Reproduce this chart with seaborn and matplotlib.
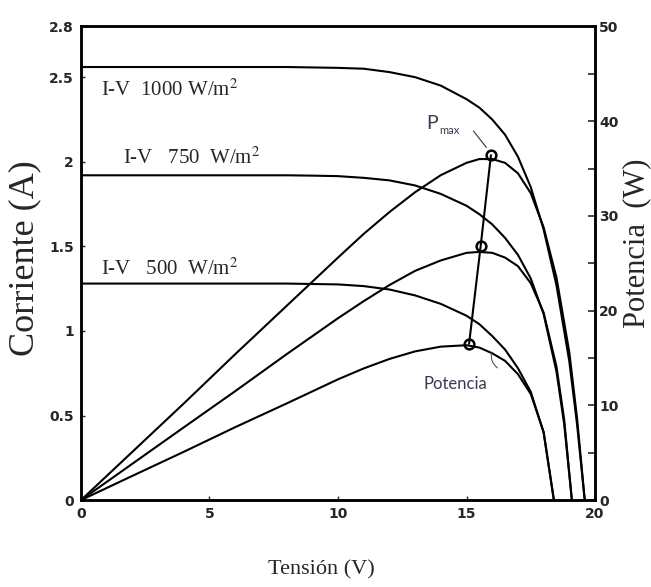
import matplotlib
matplotlib.use("Agg")
import matplotlib.pyplot as plt
import seaborn as sns
import pandas as pd

# curva I-V y potencia, 1000 W/m2
v_1000 = [0, 2, 4, 6, 8, 10, 11, 12, 13, 14, 15, 15.5, 16, 16.5, 17, 17.5, 18, 18.5, 19, 19.3, 19.6]
i_1000 = [2.56, 2.56, 2.56, 2.56, 2.56, 2.555, 2.55, 2.53, 2.50, 2.45, 2.37, 2.32, 2.25, 2.16, 2.03, 1.85, 1.6, 1.27, 0.82, 0.45, 0]
p_1000 = [0, 5.1, 10.2, 15.4, 20.5, 25.6, 28.1, 30.4, 32.5, 34.3, 35.6, 36.0, 36.0, 35.6, 34.5, 32.4, 28.8, 23.5, 15.6, 8.7, 0]

# 750 W/m2
v_750 = [0, 2, 4, 6, 8, 9, 10, 11, 12, 13, 14, 15, 15.5, 16, 16.5, 17, 17.5, 18, 18.5, 18.8, 19.1]
i_750 = [1.92, 1.92, 1.92, 1.92, 1.92, 1.918, 1.915, 1.905, 1.89, 1.86, 1.81, 1.74, 1.69, 1.63, 1.55, 1.45, 1.31, 1.1, 0.76, 0.45, 0]
p_750 = [0, 3.84, 7.68, 11.5, 15.4, 17.3, 19.2, 21.0, 22.7, 24.2, 25.3, 26.1, 26.2, 26.1, 25.6, 24.7, 22.9, 19.8, 14.1, 8.5, 0]

# 500 W/m2
v_500 = [0, 2, 4, 6, 8, 10, 11, 12, 13, 14, 15, 15.5, 16, 16.5, 17, 17.5, 18, 18.4]
i_500 = [1.28, 1.28, 1.28, 1.28, 1.28, 1.275, 1.265, 1.245, 1.21, 1.16, 1.09, 1.04, 0.97, 0.89, 0.78, 0.64, 0.4, 0]
p_500 = [0, 2.56, 5.1, 7.7, 10.2, 12.75, 13.9, 14.9, 15.7, 16.2, 16.35, 16.1, 15.5, 14.7, 13.3, 11.2, 7.2, 0]

# puntos de maxima potencia
v_pmax = [15.1, 15.55, 15.95]
p_pmax = [16.5, 26.8, 36.4]

x_ticks = [0, 5, 10, 15, 20]
i_ticks = [0, 0.5, 1, 1.5, 2, 2.5, 2.8]
i_tick_labels = ["0", "0.5", "1", "1.5", "2", "2.5", "2.8"]
p_ticks = [0, 10, 20, 30, 40, 50]

sns.set_style("white")
plt.rcParams["mathtext.fontset"] = "stix"

fig = plt.figure(figsize=(6.51, 5.87), dpi=100)
ax = fig.add_axes([0.1244, 0.148, 0.7896, 0.807])
ax2 = ax.twinx()

lw = 1.5
for v, i in [(v_1000, i_1000), (v_750, i_750), (v_500, i_500)]:
    sns.lineplot(x=v, y=i, ax=ax, sort=False, estimator=None, color="black", lw=lw)
for v, p in [(v_1000, p_1000), (v_750, p_750), (v_500, p_500)]:
    sns.lineplot(x=v, y=p, ax=ax2, sort=False, estimator=None, color="black", lw=lw)

pm = pd.DataFrame({"v": v_pmax, "p": p_pmax})
sns.lineplot(data=pm, x="v", y="p", ax=ax2, sort=False, estimator=None, color="black", lw=lw,
             marker="o", markersize=7, markerfacecolor="none", markeredgecolor="black", markeredgewidth=1.8)

ax.set_xlim(0, 20)
ax.set_ylim(0, 2.8)
ax2.set_ylim(0, 50)

tick_font = dict(family=["Liberation Sans Narrow", "DejaVu Sans"], weight="bold", size=10)
ax.set_xticks(x_ticks)
ax.set_xticklabels([str(t) for t in x_ticks], **tick_font)
ax.set_yticks(i_ticks)
ax.set_yticklabels(i_tick_labels, **tick_font)
ax2.set_yticks(p_ticks)
ax2.set_yticklabels([str(t) for t in p_ticks], **tick_font)
ax2.set_yticks([5, 15, 25, 35, 45], minor=True)

ax.tick_params(axis="both", direction="in", length=3, width=1, pad=5, left=True, bottom=True)
ax2.tick_params(axis="y", which="both", direction="in", length=5, width=1.2, pad=3, right=True)
ax.set_xlabel("")
ax.set_ylabel("")
ax2.set_ylabel("")

for a in (ax, ax2):
    for s in a.spines.values():
        s.set_linewidth(1.8)
        s.set_color("black")

serif = ["Liberation Serif", "DejaVu Serif"]
ax.text(0.78, 2.39, "I-V  1000 W/m$^{2}$", family=serif, fontsize=15)
ax.text(1.63, 1.99, "I-V   750  W/m$^{2}$", family=serif, fontsize=15)
ax.text(0.78, 1.33, "I-V   500  W/m$^{2}$", family=serif, fontsize=15)

note_color = "#3a3a50"
sans = ["Lato", "DejaVu Sans"]
ax2.text(13.45, 39.2, "P", family=sans, fontsize=14, color=note_color)
ax2.text(13.95, 38.6, "max", family=sans, fontsize=8, color=note_color)
ax2.annotate("", xy=(15.84, 37.0), xytext=(15.2, 39.2),
             arrowprops=dict(arrowstyle="-", color="#333333", lw=0.8))
ax2.text(14.55, 12.3, "Potencia", family=sans, fontsize=12, color=note_color,
         ha="center", va="center")
ax2.annotate("", xy=(16.0, 15.8), xytext=(16.3, 13.8),
             arrowprops=dict(arrowstyle="-", color="#555555", lw=0.8, connectionstyle="arc3,rad=-0.4"))

fig.text(25 / 651, 0.56, "Corriente (A)", family=serif, fontsize=26, rotation=90, ha="center", va="center")
fig.text(637 / 651, 0.585, "Potencia  (W)", family=serif, fontsize=22, rotation=90, ha="center", va="center")
fig.text(0.493, 0.029, "Tensión (V)", family=serif, fontsize=16, ha="center", va="center")

fig.savefig("out.png", dpi=100)
